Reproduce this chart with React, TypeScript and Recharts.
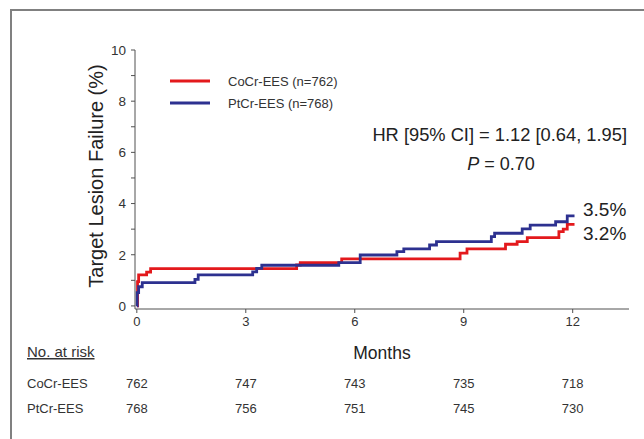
import React from 'react';
import { LineChart, Line, XAxis, YAxis } from 'recharts';

// Kaplan-Meier step points (months, TLF %)
const cocrMonths = [0, 0.02, 0.05, 0.27, 0.38, 4.4, 4.5, 5.64, 8.9, 9.09, 10.15, 10.47, 10.75, 11.62, 11.74, 11.85, 12.05];
const cocrTLF = [0, 0.95, 1.21, 1.32, 1.46, 1.6, 1.69, 1.84, 2.06, 2.23, 2.41, 2.51, 2.67, 2.9, 3.0, 3.19, 3.19];

const ptcrMonths = [0, 0.01, 0.05, 0.15, 1.6, 1.69, 3.19, 3.3, 3.44, 5.56, 6.15, 7.16, 7.35, 8.06, 8.25, 9.76, 9.85, 10.61, 10.83, 11.53, 11.85, 12.05];
const ptcrTLF = [0, 0.52, 0.75, 0.91, 1.04, 1.21, 1.33, 1.47, 1.59, 1.69, 1.99, 2.12, 2.23, 2.38, 2.51, 2.71, 2.84, 3.01, 3.16, 3.29, 3.52, 3.52];

const monthTicks = [0, 3, 6, 9, 12];
const tlfTicks = [0, 1, 2, 3, 4, 5, 6, 7, 8, 9, 10];

const cocrAtRisk = [762, 747, 743, 735, 718];
const ptcrAtRisk = [768, 756, 751, 745, 730];

const RED = '#e3191c';
const BLUE = '#2d3190';
const AXIS = '#505050';
const FONT = '"Liberation Sans", Arial, sans-serif';

const toPoints = (m: number[], v: number[]) => m.map((x, i) => ({ m: x, v: v[i] }));
const cocrData = toPoints(cocrMonths, cocrTLF);
const ptcrData = toPoints(ptcrMonths, ptcrTLF);

// month tick label plus the two "at risk" numbers under it, on the same x scale
const MonthTick = (props: any) => {
  const { x, y, payload } = props;
  const i = monthTicks.indexOf(payload.value);
  return (
    <g fontFamily={FONT}>
      <text x={x} y={y + 11} textAnchor="middle" fontSize={13} fill="#333">
        {payload.value}
      </text>
      {i >= 0 && (
        <>
          <text x={x} y={y + 73} textAnchor="middle" fontSize={13} fill="#333">
            {cocrAtRisk[i]}
          </text>
          <text x={x} y={y + 98} textAnchor="middle" fontSize={13} fill="#333">
            {ptcrAtRisk[i]}
          </text>
        </>
      )}
    </g>
  );
};

export default function App() {
  return (
    <div style={{ position: 'relative', width: 644, height: 439, background: '#fff', fontFamily: FONT }}>
      <style>{`body{margin:0}`}</style>
      <div
        style={{
          position: 'absolute',
          left: 10,
          top: 9,
          right: 0,
          bottom: 0,
          borderTop: '2px solid #808080',
          borderLeft: '2px solid #808080',
        }}
      />
      <LineChart width={644} height={439} margin={{ top: 50, right: 15, bottom: 78, left: 0 }}>
        <XAxis
          dataKey="m"
          type="number"
          domain={[-0.05, 13.55]}
          allowDataOverflow
          ticks={monthTicks}
          tickSize={4}
          tickMargin={2}
          height={52}
          stroke={AXIS}
          tick={<MonthTick />}
          label={{ value: 'Months', position: 'insideBottom', offset: 2, fill: '#222', fontSize: 17.5, fontFamily: FONT }}
        />
        <YAxis
          type="number"
          domain={[-0.12, 10]}
          allowDataOverflow
          ticks={tlfTicks}
          interval={0}
          width={135}
          tickSize={4}
          tickMargin={5}
          stroke={AXIS}
          tickFormatter={(v: number) => (v % 2 === 0 ? String(v) : '')}
          tick={{ fill: '#333', fontSize: 13.5, fontFamily: FONT }}
        />
        <Line
          data={cocrData}
          dataKey="v"
          type="stepAfter"
          stroke={RED}
          strokeWidth={2.8}
          dot={false}
          isAnimationActive={false}
        />
        <Line
          data={ptcrData}
          dataKey="v"
          type="stepAfter"
          stroke={BLUE}
          strokeWidth={2.8}
          dot={false}
          isAnimationActive={false}
        />
      </LineChart>
      <svg
        width={644}
        height={439}
        style={{ position: 'absolute', left: 0, top: 0, pointerEvents: 'none' }}
        fontFamily={FONT}
      >
        <text transform="translate(103,176) rotate(-90)" textAnchor="middle" fontSize={20} fill="#222">
          Target Lesion Failure (%)
        </text>

        <line x1={170} x2={210} y1={81} y2={81} stroke={RED} strokeWidth={3} />
        <text x={228} y={86} fontSize={13} fill="#333">CoCr-EES (n=762)</text>
        <line x1={170} x2={210} y1={103} y2={103} stroke={BLUE} strokeWidth={3} />
        <text x={228} y={108} fontSize={13} fill="#333">PtCr-EES (n=768)</text>

        <text x={627} y={141} textAnchor="end" fontSize={18.3} fill="#222">
          HR [95% CI] = 1.12 [0.64, 1.95]
        </text>
        <text x={501} y={170} textAnchor="middle" fontSize={18} fill="#222">
          <tspan fontStyle="italic">P</tspan> = 0.70
        </text>

        <text x={583} y={216} fontSize={19} fill="#222">3.5%</text>
        <text x={583} y={240} fontSize={19} fill="#222">3.2%</text>

        <text x={27} y={357} fontSize={15} fill="#333" textDecoration="underline">No. at risk</text>
        <text x={27} y={388} fontSize={13} fill="#333">CoCr-EES</text>
        <text x={27} y={413} fontSize={13} fill="#333">PtCr-EES</text>
      </svg>
    </div>
  );
}
